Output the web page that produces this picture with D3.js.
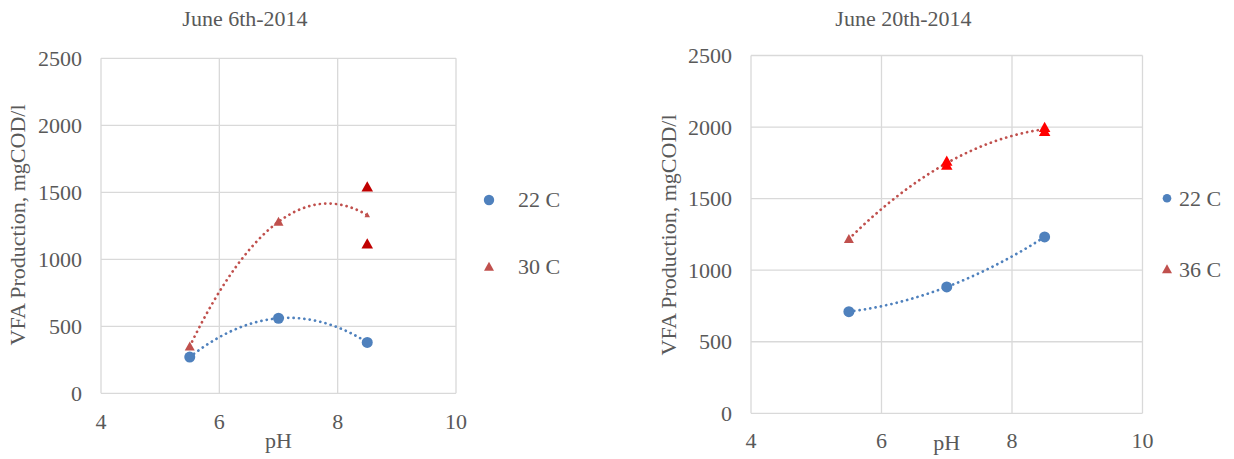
<!DOCTYPE html>
<html>
<head>
<meta charset="utf-8">
<script src="https://cdn.jsdelivr.net/npm/d3@7"></script>
<style>
  html, body { margin: 0; padding: 0; background: #fff; }
  svg text { font-family: "Liberation Serif", "Times New Roman", serif; fill: #595959; }
</style>
</head>
<body>
<svg id="chart" width="1234" height="459"></svg>
<script>
// ---------- DATA ----------
const xTicks = [4, 6, 8, 10];
const yTicks = [0, 500, 1000, 1500, 2000, 2500];
const pH = [5.5, 7, 8.5];

// Chart 1: June 6th-2014
const title1 = "June 6th-2014";
const series1Names = ["22 C", "30 C"];
const c1_22 = [270, 560, 380];
const c1_30 = [350, 1280, 1330];
const c1_30_repX = [8.5, 8.5];
const c1_30_repY = [1540, 1115];

// Chart 2: June 20th-2014
const title2 = "June 20th-2014";
const series2Names = ["22 C", "36 C"];
const c2_22 = [710, 883, 1232];
const c2_36 = [1218, 1748, 1985];
const c2_36_repX = [7, 7, 8.5, 8.5];
const c2_36_repY = [1762, 1734, 1998, 1970];

const yTitle = "VFA Production, mgCOD/l";
const xTitle = "pH";

// ---------- HELPERS ----------
const svg = d3.select("#chart");
const BLUE = "#4F81BD", RED = "#C0504D", GRID = "#D9D9D9";

function quadFit(xs, ys) {
  // least-squares quadratic fit y = a + b x + c x^2
  let n = xs.length, S = [0,0,0,0,0], T = [0,0,0];
  for (let i = 0; i < n; i++) {
    const x = xs[i], y = ys[i];
    for (let k = 0; k < 5; k++) S[k] += Math.pow(x, k);
    for (let k = 0; k < 3; k++) T[k] += y * Math.pow(x, k);
  }
  const M = [[S[0],S[1],S[2],T[0]],[S[1],S[2],S[3],T[1]],[S[2],S[3],S[4],T[2]]];
  for (let i = 0; i < 3; i++) {
    let p = i;
    for (let r = i+1; r < 3; r++) if (Math.abs(M[r][i]) > Math.abs(M[p][i])) p = r;
    [M[i], M[p]] = [M[p], M[i]];
    for (let r = 0; r < 3; r++) if (r !== i) {
      const f = M[r][i] / M[i][i];
      for (let c = i; c < 4; c++) M[r][c] -= f * M[i][c];
    }
  }
  const co = [M[0][3]/M[0][0], M[1][3]/M[1][1], M[2][3]/M[2][2]];
  return x => co[0] + co[1]*x + co[2]*x*x;
}

function triPath(size) {
  const h = size * 0.9, w = size;
  return `M0,${-h*0.55}L${w/2},${h*0.45}L${-w/2},${h*0.45}Z`;
}

function drawChart(cfg) {
  const g = svg.append("g");
  const x = d3.scaleLinear().domain([4, 10]).range([cfg.x0, cfg.x1]);
  const y = d3.scaleLinear().domain([0, 2500]).range([cfg.y0, cfg.y1]);

  // grid
  g.selectAll(".vg").data(xTicks).join("line")
    .attr("x1", d => x(d)).attr("x2", d => x(d))
    .attr("y1", y(0)).attr("y2", y(2500))
    .attr("stroke", GRID).attr("stroke-width", 1.3);
  g.selectAll(".hg").data(yTicks).join("line")
    .attr("y1", d => y(d)).attr("y2", d => y(d))
    .attr("x1", x(4)).attr("x2", x(10))
    .attr("stroke", GRID).attr("stroke-width", 1.3);

  // tick labels
  g.selectAll(".yt").data(yTicks).join("text")
    .attr("x", x(4) - 19).attr("y", d => y(d)).attr("dy", "0.34em")
    .attr("text-anchor", "end").attr("font-size", 22).text(d => d);
  g.selectAll(".xt").data(xTicks).join("text")
    .attr("x", d => x(d)).attr("y", cfg.y0 + cfg.xTickOff)
    .attr("text-anchor", "middle").attr("font-size", 22).text(d => d);

  // titles
  g.append("text").attr("x", cfg.titleX).attr("y", 26)
    .attr("text-anchor", "middle").attr("font-size", 22).text(cfg.title);
  g.append("text").attr("x", (cfg.x0 + cfg.x1) / 2).attr("y", cfg.y0 + cfg.pHOff)
    .attr("text-anchor", "middle").attr("font-size", 22).text(xTitle);
  g.append("text")
    .attr("transform", `translate(${cfg.yTitleX},${cfg.yTitleY}) rotate(-90)`)
    .attr("text-anchor", "middle").attr("font-size", 22).text(yTitle);

  // trendlines
  const line = d3.line().x(d => x(d[0])).y(d => y(d[1]));
  [[cfg.blue, BLUE], [cfg.red, RED]].forEach(([vals, col]) => {
    const f = quadFit(pH, vals);
    const pts = d3.range(0, 101).map(i => {
      const xv = pH[0] + (pH[pH.length-1] - pH[0]) * i / 100;
      return [xv, f(xv)];
    });
    g.append("path").attr("d", line(pts)).attr("fill", "none")
      .attr("stroke", col).attr("stroke-width", 2.7)
      .attr("stroke-linecap", "round").attr("stroke-dasharray", "0.1 5.3");
  });

  // red main series markers (smaller where replicates are shown)
  g.selectAll(".rm").data(pH.map((p, i) => [p, cfg.red[i]])).join("path")
    .attr("transform", d => `translate(${x(d[0])},${y(d[1])})`)
    .attr("d", d => triPath(cfg.repX.includes(d[0]) ? 5.5 : 10))
    .attr("fill", RED);

  // replicate markers
  g.selectAll(".rep").data(cfg.repX.map((p, i) => [p, cfg.repY[i]])).join("path")
    .attr("transform", d => `translate(${x(d[0])},${y(d[1])})`)
    .attr("d", triPath(11.5)).attr("fill", cfg.repColor);

  // blue markers
  g.selectAll(".bm").data(pH.map((p, i) => [p, cfg.blue[i]])).join("circle")
    .attr("cx", d => x(d[0])).attr("cy", d => y(d[1])).attr("r", 5.5)
    .attr("fill", BLUE);

  // legend
  const lg = g.append("g");
  lg.append("circle").attr("cx", cfg.legX).attr("cy", cfg.legY1).attr("r", cfg.legR).attr("fill", BLUE);
  lg.append("text").attr("x", cfg.legTX).attr("y", cfg.legY1).attr("dy", "0.34em")
    .attr("font-size", 22).text(cfg.names[0]);
  lg.append("path").attr("transform", `translate(${cfg.legX},${cfg.legY2})`)
    .attr("d", triPath(10)).attr("fill", RED);
  lg.append("text").attr("x", cfg.legTX).attr("y", cfg.legY2).attr("dy", "0.34em")
    .attr("font-size", 22).text(cfg.names[1]);
}

drawChart({
  x0: 101, x1: 456, y0: 393.3, y1: 58.3,
  title: title1, titleX: 245, xTickOff: 36, pHOff: 55,
  yTitleX: 25, yTitleY: 225,
  blue: c1_22, red: c1_30, repX: c1_30_repX, repY: c1_30_repY, repColor: "#C00000",
  names: series1Names, legX: 489, legY1: 200, legY2: 266.7, legTX: 518, legR: 5.2
});

drawChart({
  x0: 751, x1: 1142.5, y0: 413.3, y1: 55.5,
  title: title2, titleX: 903.5, xTickOff: 35, pHOff: 37,
  yTitleX: 676, yTitleY: 235,
  blue: c2_22, red: c2_36, repX: c2_36_repX, repY: c2_36_repY, repColor: "#FF0000",
  names: series2Names, legX: 1167, legY1: 198.3, legY2: 269.3, legTX: 1179, legR: 4.3
});
</script>
</body>
</html>
